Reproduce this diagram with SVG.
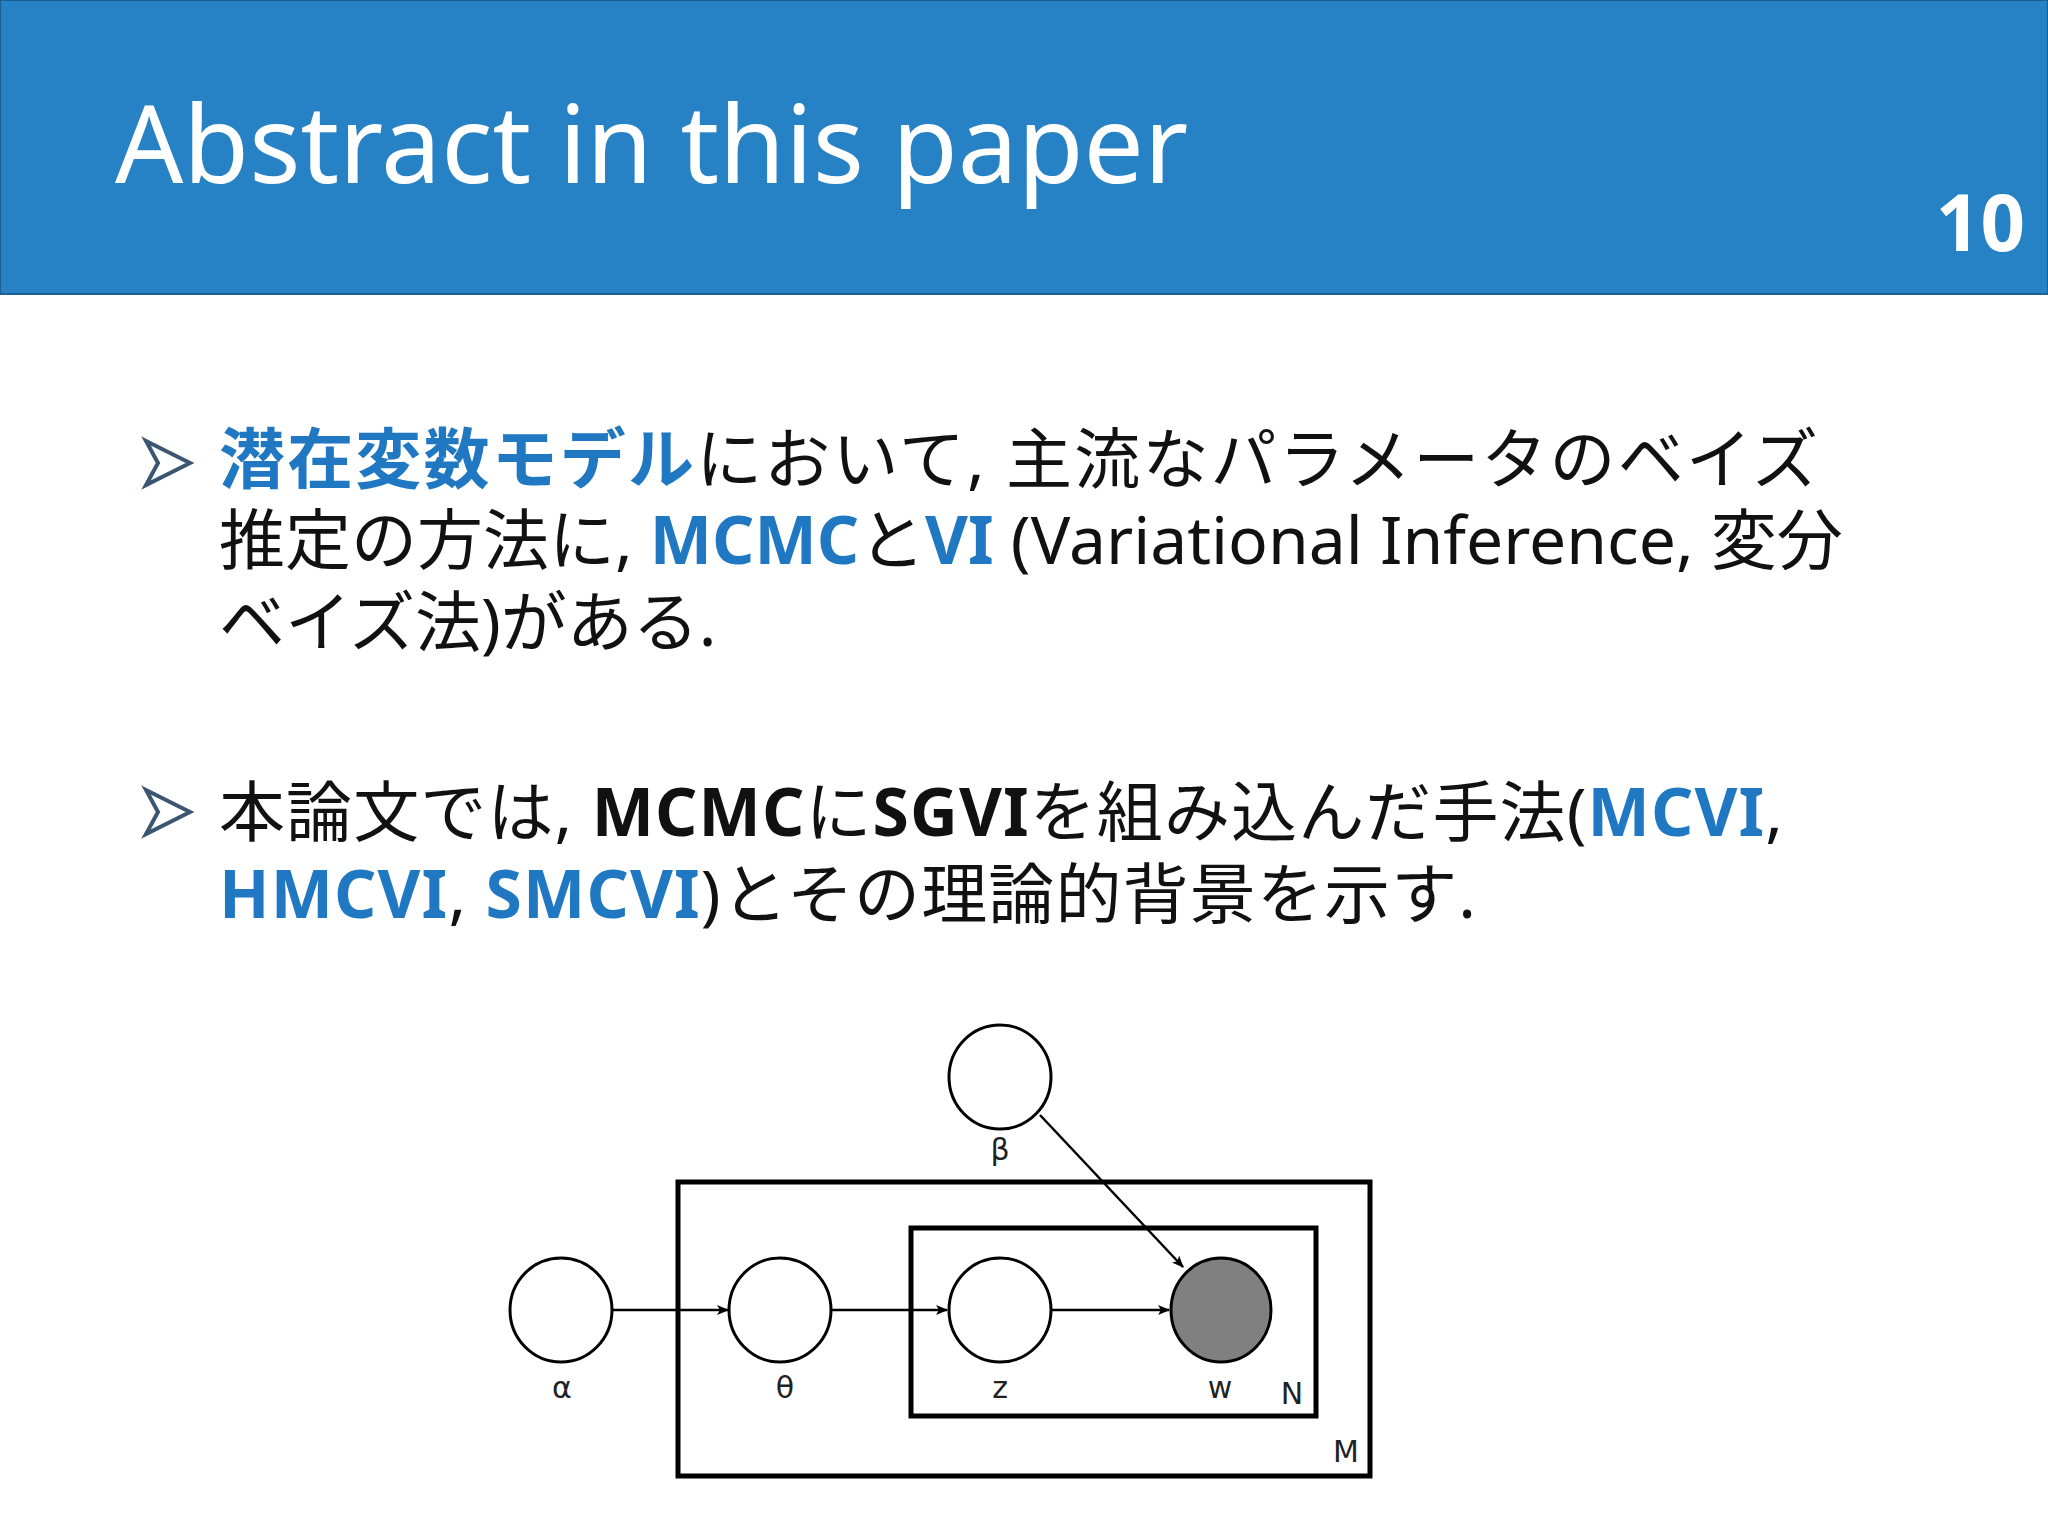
<svg xmlns="http://www.w3.org/2000/svg" width="2048" height="1536" viewBox="0 0 2048 1536">
<style>
.t{font-family:"Noto Sans","Noto Sans CJK JP",sans-serif;font-size:66px;fill:#111}
.b{font-weight:bold;fill:#1f78c1}
.k{font-weight:bold;fill:#111}
.n{fill:#fff;stroke:#000;stroke-width:3}
.lab{font-family:"DejaVu Sans",sans-serif;font-size:30px;fill:#222;text-anchor:middle}
.e{stroke:#000;stroke-width:2.5;fill:none;marker-end:url(#ah)}
</style>
<defs>
<marker id="ah" markerWidth="12" markerHeight="10" refX="11" refY="5" orient="auto" markerUnits="userSpaceOnUse"><path d="M0,0 L12,5 L0,10 L3,5 Z" fill="#000"/></marker>
<path id="bul" d="M0,0 L44,22 L0,44 L12,22 Z" fill="#fff" stroke="#3a5670" stroke-width="4"/>
</defs>
<rect x="0" y="0" width="2048" height="294" fill="#2782c5" stroke="#1e5f93" stroke-width="2"/>
<text x="115" y="183" font-family="Noto Sans, sans-serif" font-size="107" fill="#fff">Abstract in this paper</text>
<text x="2025" y="251" font-family="Noto Sans, sans-serif" font-size="78" font-weight="bold" fill="#fff" text-anchor="end">10</text>
<use href="#bul" x="146" y="441"/>
<use href="#bul" x="146" y="790"/>
<text class="t" x="219" y="483" textLength="1599" lengthAdjust="spacing"><tspan class="b">潜在変数モデル</tspan>において, 主流なパラメータのベイズ</text>
<text class="t" x="219" y="564">推定の方法に, <tspan class="b">MCMC</tspan>と<tspan class="b">VI</tspan> (Variational Inference, 変分</text>
<text class="t" x="219" y="646">ベイズ法)がある.</text>
<text class="t" x="219" y="836" textLength="1564" lengthAdjust="spacing">本論文では, <tspan class="k">MCMC</tspan>に<tspan class="k">SGVI</tspan>を組み込んだ手法(<tspan class="b">MCVI</tspan>,</text>
<text class="t" x="219" y="918" textLength="1257" lengthAdjust="spacing"><tspan class="b">HMCVI</tspan>, <tspan class="b">SMCVI</tspan>)とその理論的背景を示す.</text>
<g id="plateM"><rect x="678" y="1182" width="692" height="294" fill="none" stroke="#000" stroke-width="5"/><text class="lab" x="1346" y="1462">M</text></g>
<g id="plateN"><rect x="911" y="1228" width="405" height="188" fill="none" stroke="#000" stroke-width="5"/><text class="lab" x="1292" y="1404">N</text></g>
<g id="connectors">
<line class="e" x1="612" y1="1310" x2="728" y2="1310"/>
<line class="e" x1="831" y1="1310" x2="947" y2="1310"/>
<line class="e" x1="1051" y1="1310" x2="1169" y2="1310"/>
<line class="e" x1="1040" y1="1115" x2="1183" y2="1267"/>
</g>
<g id="alpha"><ellipse class="n" cx="561" cy="1310" rx="51" ry="52"/><text class="lab" x="562" y="1398">α</text></g>
<g id="theta"><ellipse class="n" cx="780" cy="1310" rx="51" ry="52"/><text class="lab" x="785" y="1398">θ</text></g>
<g id="z"><ellipse class="n" cx="1000" cy="1310" rx="51" ry="52"/><text class="lab" x="1000" y="1398">z</text></g>
<g id="w"><ellipse cx="1221" cy="1310" rx="50" ry="52" fill="#808080" stroke="#000" stroke-width="3"/><text class="lab" x="1220" y="1398">w</text></g>
<g id="beta"><ellipse class="n" cx="1000" cy="1077" rx="51" ry="52"/><text class="lab" x="1000" y="1160">β</text></g>
</svg>
